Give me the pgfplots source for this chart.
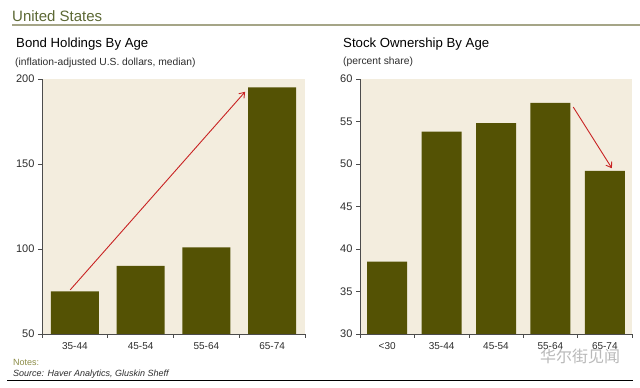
\documentclass[border=0pt]{standalone}
\usepackage{pgfplots}
\pgfplotsset{compat=1.18}
\usetikzlibrary{arrows.meta}
\usepackage{fontspec}
\setmainfont{Liberation Sans}
\newfontfamily\cjk{Noto Sans CJK SC}
\definecolor{barc}{RGB}{84,82,4}
\definecolor{cream}{RGB}{243,237,222}
\definecolor{hdr}{RGB}{92,104,52}
\definecolor{hline}{RGB}{165,165,135}
\definecolor{txt}{RGB}{45,45,45}
\definecolor{notec}{RGB}{140,140,70}
\definecolor{arrowred}{RGB}{200,35,35}
\pgfplotsset{
  common/.style={
    scale only axis,
    anchor=south west,
    axis lines*=left,
    axis line style={draw=txt!85, line width=0.6pt},
    axis background/.style={fill=cream},
    tick align=outside,
    major tick length=4pt,
    tick style={draw=txt!85, line width=0.6pt},
    xticklabel style={font=\fontsize{10}{12}\selectfont, text=txt},
    yticklabel style={font=\fontsize{11}{13}\selectfont, text=txt},
    /pgf/number format/assume math mode=true,
    xticklabels={},
    extra x tick style={major tick length=0pt, tick style={draw=none},
      xticklabel style={yshift=-5pt}},
    ybar,
    clip=true,
  }
}
\begin{document}
\begin{tikzpicture}[x=1pt,y=1pt]
\useasboundingbox (0,0) rectangle (640,388);
\fill[white] (0,0) rectangle (640,388);
% header
\node[anchor=base west, text=hdr, font=\fontsize{15}{18}\selectfont, inner sep=0] at (12,366) {United States};
\draw[hline, line width=1.5pt] (12,363) -- (640,363);
% left titles
\node[anchor=base west, text=black, font=\fontsize{13.2}{15}\selectfont, inner sep=0] at (16,340) {Bond Holdings By Age};
\node[anchor=base west, text=txt, font=\fontsize{10.3}{12}\selectfont, inner sep=0] at (15,322) {(inflation-adjusted U.S. dollars, median)};
% right titles
\node[anchor=base west, text=black, font=\fontsize{13.2}{15}\selectfont, inner sep=0] at (343,340) {Stock Ownership By Age};
\node[anchor=base west, text=txt, font=\fontsize{10.3}{12}\selectfont, inner sep=0] at (343,323) {(percent share)};

\begin{axis}[common,
  at={(42pt,54pt)}, width=263pt, height=255pt,
  xmin=-0.5, xmax=3.5, ymin=50, ymax=200,
  ytick={50,100,150,200},
  xtick={-0.5,0.5,1.5,2.5,3.5},
  extra x ticks={0,1,2,3},
  extra x tick labels={35-44,45-54,55-64,65-74},
  bar width=48pt,
]
\addplot[fill=barc, draw=none] coordinates {(0,75) (1,90) (2,101) (3,195)};
\draw[arrowred, line width=0.9pt, -{Straight Barb[length=5pt,width=7pt]}] (axis cs:-0.07,76) -- (axis cs:2.59,192.5);
\end{axis}

\begin{axis}[common,
  at={(360pt,54pt)}, width=272pt, height=255pt,
  xmin=-0.5, xmax=4.5, ymin=30, ymax=60,
  ytick={30,35,40,45,50,55,60},
  xtick={-0.5,0.5,1.5,2.5,3.5,4.5},
  extra x ticks={0,1,2,3,4},
  extra x tick labels={<30,35-44,45-54,55-64,65-74},
  bar width=40pt,
]
\addplot[fill=barc, draw=none] coordinates {(0,38.5) (1,53.8) (2,54.8) (3,57.2) (4,49.2)};
\draw[arrowred, line width=0.9pt, -{Straight Barb[length=5pt,width=7pt]}] (axis cs:3.42,56.7) -- (axis cs:4.13,49.5);
\end{axis}

% watermark
\node[text=gray!55, font=\cjk\fontsize{16}{18}\selectfont, inner sep=0] at (580,32) {华尔街见闻};
% notes
\node[anchor=base west, text=notec, font=\fontsize{9}{10}\selectfont, inner sep=0] at (13,22) {Notes:};
\node[anchor=base west, text=txt, font=\itshape\fontsize{9}{10}\selectfont, inner sep=0] at (13,11) {Source: Haver Analytics, Gluskin Sheff};
\draw[black, line width=0.8pt] (7,8) -- (633,8);
\end{tikzpicture}
\end{document}
